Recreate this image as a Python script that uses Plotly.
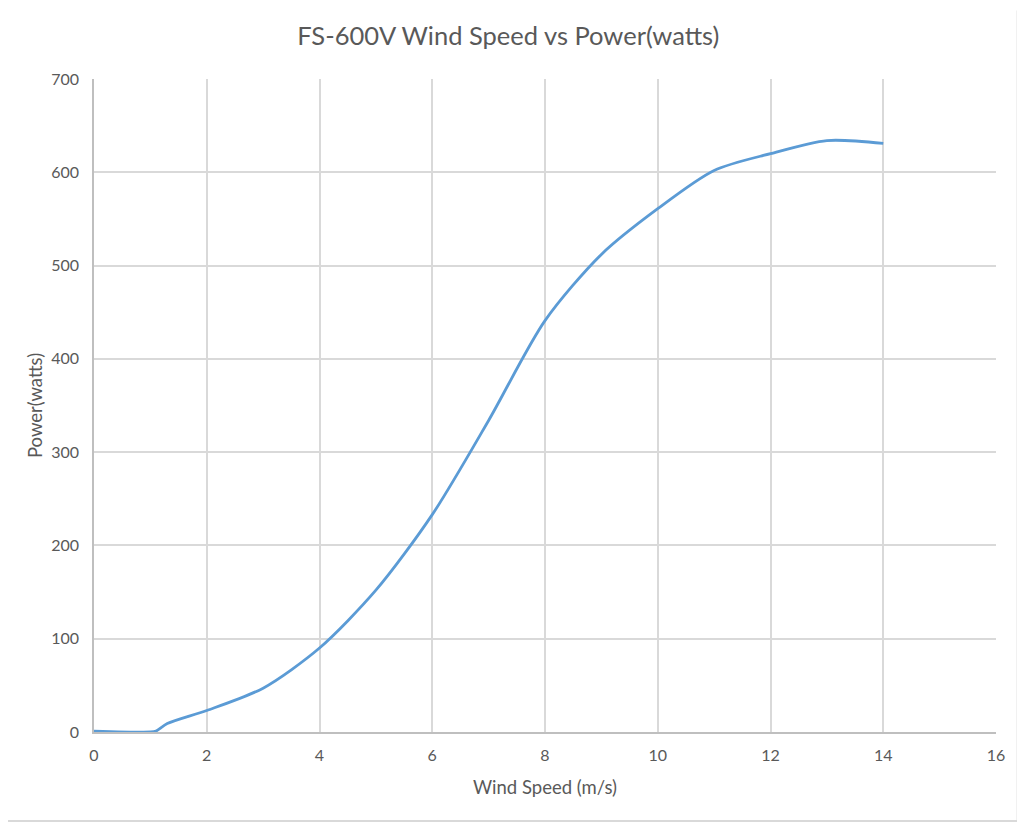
import plotly.graph_objects as go

# wind speed (m/s) and power output (watts)
wind_speed = [0, 1, 1.1, 1.3, 2, 3, 4, 5, 6, 7, 8, 9, 10, 11, 12, 13, 14]
power_watts = [1, 0, 1, 9, 23, 47, 90, 152, 233, 334, 441, 512, 561, 602, 620, 634, 631]

x_ticks = [0, 2, 4, 6, 8, 10, 12, 14, 16]
y_ticks = [0, 100, 200, 300, 400, 500, 600, 700]

grey_text = '#595959'
grid = '#d9d9d9'

fig = go.Figure(go.Scatter(
    x=wind_speed,
    y=power_watts,
    mode='lines',
    line=dict(color='#5b9bd5', width=2.8, shape='spline', smoothing=0.8),
    showlegend=False
))

# the page body has an 8px margin, so the figure is sized to fill the rest
fig.update_layout(
    width=1017,
    height=814,
    margin=dict(l=86, r=29, t=71, b=90),
    paper_bgcolor='white',
    plot_bgcolor='white',
    font=dict(family='Lato, "Open Sans", sans-serif', color=grey_text, size=16),
    title=dict(
        text='FS-600V Wind Speed vs Power(watts)',
        x=0.492, xanchor='center',
        y=0.966, yanchor='middle',
        font=dict(size=25.5, color=grey_text)
    ),
    xaxis=dict(
        range=[0, 16],
        tickvals=x_ticks,
        showgrid=True, gridcolor=grid, gridwidth=1.6,
        zeroline=False,
        showline=True, linecolor='#bfbfbf', linewidth=1.6,
        ticks='', ticklabelstandoff=8,
        title=dict(text='Wind Speed (m/s)', font=dict(size=18.5, color=grey_text), standoff=18)
    ),
    yaxis=dict(
        range=[0, 700],
        tickvals=y_ticks,
        showgrid=True, gridcolor=grid, gridwidth=1.6,
        zeroline=False,
        showline=True, linecolor='#bfbfbf', linewidth=1.6,
        ticks='', ticklabelstandoff=10,
        title=dict(text='Power(watts)', font=dict(size=18.5, color=grey_text), standoff=4)
    ),
    shapes=[
        # chart frame as seen in the spreadsheet
        dict(type='line', xref='paper', yref='paper',
             x0=1.024, x1=1.024, y0=-0.1363, y1=1.105,
             line=dict(color='#d9d9d9', width=2)),
        dict(type='line', xref='paper', yref='paper',
             x0=-0.2, x1=1.024, y0=-0.1363, y1=-0.1363,
             line=dict(color='#d9d9d9', width=2)),
    ]
)

fig.write_html('out.html')
